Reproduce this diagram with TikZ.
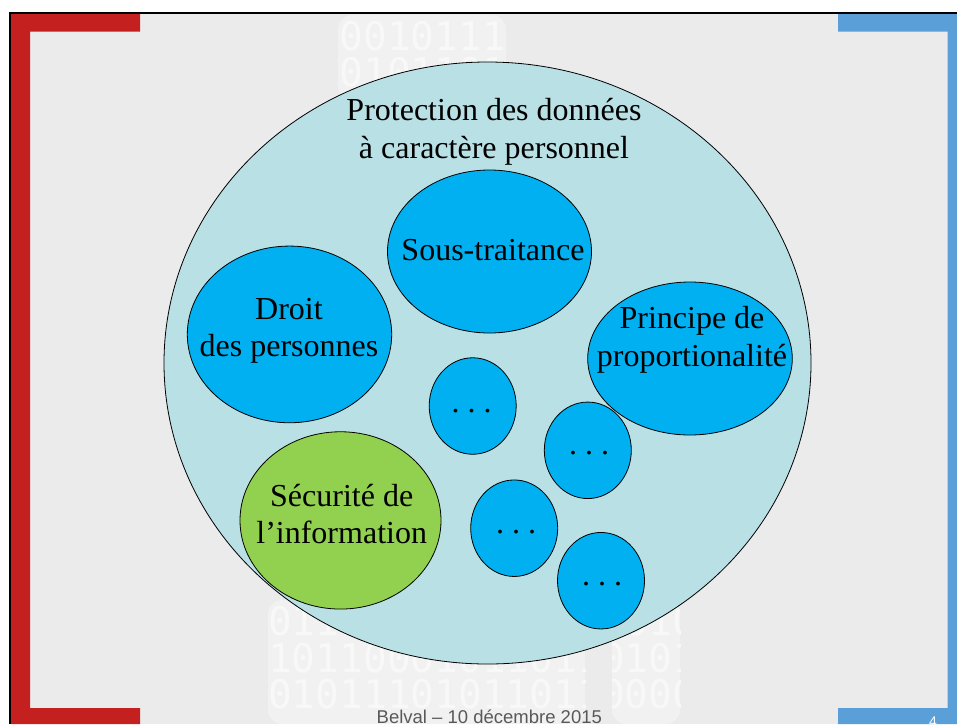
\documentclass[tikz,border=0pt]{standalone}
\usepackage{fontspec}
\setmainfont{Liberation Serif}
\newfontfamily\footfont{Liberation Sans}
\newfontfamily\binfont{DejaVu Sans Mono}
\usetikzlibrary{shapes.geometric}
\frenchspacing
\definecolor{slidegrey}{HTML}{EBEBEB}
\definecolor{ghost}{HTML}{F1F1F1}
\definecolor{ghostdigit}{HTML}{F8F8F8}
\definecolor{brandred}{HTML}{C3201F}
\definecolor{brandblue}{HTML}{5B9FD8}
\definecolor{outerfill}{HTML}{B9E0E4}
\definecolor{topicblue}{HTML}{00B0F0}
\definecolor{topicgreen}{HTML}{92D050}
\definecolor{footgrey}{HTML}{595959}

\begin{document}
\begin{tikzpicture}[x=1pt,y=-1pt,
    topic/.style={ellipse, draw=black, line width=0.8pt, inner sep=0pt, fill=topicblue},
    lbl/.style={align=center, inner sep=0pt, font=\fontsize{32}{37.7}\selectfont},
    bin/.style={anchor=base west, inner sep=0pt, text=ghostdigit, font=\binfont\fontsize{39.5}{40}\selectfont}]
    \useasboundingbox (0,0) rectangle (957,724);
    % slide background
    \fill[slidegrey] (10,13) rectangle (957,724);
    % watermark
    \begin{scope}
        \clip[rounded corners=14pt] (338,15) rectangle (506,100)
            (268,724) -- (268,600) -- (585,600) -- (585,724) -- cycle
            (612,724) -- (612,600) -- (680,600) -- (680,724) -- cycle;
        \fill[ghost] (260,0) rectangle (700,724);
        \foreach \k/\bits in {0/110001011101101001, 1/101010110110011010,
            16/011101001101011010, 17/101100010110110101,
            18/010111010110110000}
            \node[bin] (bin\k) at (268, 50+36.6*\k) {\bits};
    \end{scope}
    % brackets
    \fill[brandred] (11,14) -- (140,14) -- (140,31.5) -- (30,31.5) -- (30,708)
        -- (140,708) -- (140,724) -- (11,724) -- cycle;
    \fill[brandblue] (838,14) -- (957,14) -- (957,724) -- (838,724) -- (838,708)
        -- (947.5,708) -- (947.5,31.5) -- (838,31.5) -- cycle;
    \draw[line width=2pt] (10,724) -- (10,13) -- (957,13);

    % outer circle
    \node[topic, fill=outerfill, minimum width=647pt, minimum height=602pt] (pdcp) at (487.5,363) {};
    \node[lbl] (pdcp-txt) at (494,132) {Protection des données\\à caractère personnel};

    % topics
    \node[topic, minimum width=204pt, minimum height=163pt] (sous) at (489.5,251.5) {};
    \node[lbl] (sous-txt) at (493,250.4) {Sous-traitance};
    \node[topic, minimum width=204.4pt, minimum height=176.7pt] (droit) at (289.5,334.4) {};
    \node[lbl] (droit-txt) at (289,330.7) {Droit\\des personnes};
    \node[topic, minimum width=204.6pt, minimum height=153pt] (princ) at (690,358.5) {};
    \node[lbl] (princ-txt) at (692,339.7) {Principe de\\proportionalité};
    \node[topic, fill=topicgreen, minimum width=201pt, minimum height=177.3pt] (secu) at (340.5,520.4) {};
    \node[lbl] (secu-txt) at (341.7,513.9) {Sécurité de\\l’information};

    % other topics
    \foreach \n/\cx/\cy/\dx/\dy in {1/472.7/406/471.7/410.7, 2/587.8/450.3/589/453,
        3/514.2/528.2/516/532.3, 4/601/580.7/602/584.3} {
        \node[topic, minimum width=87pt, minimum height=96.5pt] (etc\n) at (\cx,\cy) {};
        \node[lbl] (etc\n-txt) at (\dx,\dy) {. . .};
    }

    % footer
    \node[anchor=base, inner sep=0pt, text=footgrey, font=\footfont\fontsize{18.5}{20}\selectfont] (foot) at (489.3,723.5) {Belval – 10 décembre 2015};
    \node[anchor=base, inner sep=0pt, text=white, font=\footfont\fontsize{14}{16}\selectfont] (pageno) at (933,726) {4};
\end{tikzpicture}
\end{document}
